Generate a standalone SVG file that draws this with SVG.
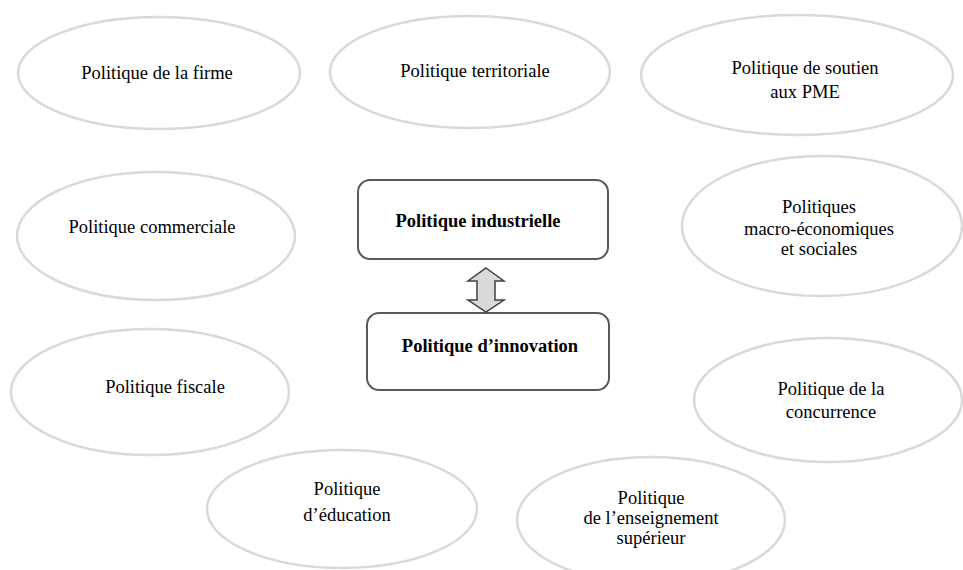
<svg xmlns="http://www.w3.org/2000/svg" width="963" height="570" viewBox="0 0 963 570">
<style>
.el{fill:#fff;stroke:#d9d9d9;stroke-width:2.5}
.bx{fill:#fff;stroke:#595959;stroke-width:2}
.t{font-family:"Liberation Serif","Times New Roman",serif;font-size:18.5px;fill:#000;text-anchor:middle}
.b{font-weight:bold}
.arr{fill:#d9d9d9;stroke:#404040;stroke-width:1.5;stroke-linejoin:miter}
</style>
<rect width="963" height="570" fill="#fff"/>
<g id="firme"><ellipse class="el" cx="159" cy="73" rx="141" ry="56"/><text class="t" x="157" y="79">Politique de la firme</text></g>
<g id="territoriale"><ellipse class="el" cx="470" cy="72" rx="140" ry="56"/><text class="t" x="475" y="77">Politique territoriale</text></g>
<g id="pme"><ellipse class="el" cx="797" cy="75" rx="156" ry="60"/><text class="t" x="805" y="74">Politique de soutien</text><text class="t" x="805" y="98">aux PME</text></g>
<g id="commerciale"><ellipse class="el" cx="156" cy="236" rx="139" ry="64"/><text class="t" x="152" y="233">Politique commerciale</text></g>
<g id="macro"><ellipse class="el" cx="822" cy="226" rx="140" ry="70"/><text class="t" x="819" y="213">Politiques</text><text class="t" x="819" y="235">macro-économiques</text><text class="t" x="819" y="255">et sociales</text></g>
<g id="fiscale"><ellipse class="el" cx="150" cy="392" rx="139" ry="63"/><text class="t" x="165" y="393">Politique fiscale</text></g>
<g id="concurrence"><ellipse class="el" cx="828" cy="400" rx="134" ry="62"/><text class="t" x="831" y="395">Politique de la</text><text class="t" x="831" y="418">concurrence</text></g>
<g id="education"><ellipse class="el" cx="342" cy="509" rx="135" ry="59"/><text class="t" x="347" y="495">Politique</text><text class="t" x="347" y="521">d’éducation</text></g>
<g id="enseignement"><ellipse class="el" cx="651" cy="520" rx="134" ry="63"/><text class="t" x="651" y="504">Politique</text><text class="t" x="651" y="524">de l’enseignement</text><text class="t" x="651" y="544">supérieur</text></g>
<g id="industrielle"><rect class="bx" x="358" y="180" width="250" height="79" rx="12"/><text class="t b" x="478" y="227">Politique industrielle</text></g>
<g id="innovation"><rect class="bx" x="367" y="313" width="242" height="77" rx="12"/><text class="t b" x="490" y="352">Politique d’innovation</text></g>
<g id="connectors"><polygon class="arr" points="486,268 504,281 495,281 495,300 504,300 486,312 468,300 477,300 477,281 468,281"/></g>
</svg>
